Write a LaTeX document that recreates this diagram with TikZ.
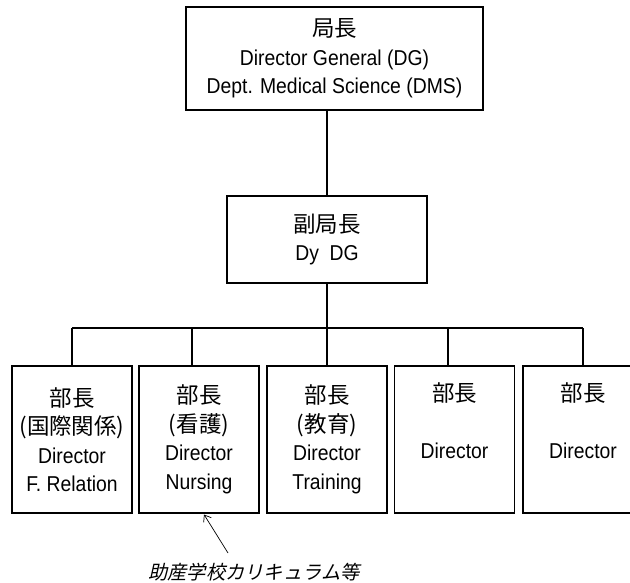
\documentclass[tikz,border=0pt]{standalone}
\usepackage{fontspec}
\setmainfont[FakeStretch=0.9]{Liberation Sans}
\newfontfamily\cjk{Noto Sans CJK JP}
\newfontfamily\cjkit[FakeSlant=0.22]{Noto Sans CJK JP}
\newcommand{\J}[1]{{\cjk\fontsize{22.5}{28.5}\selectfont #1}}
\usetikzlibrary{arrows.meta}
\begin{document}
\begin{tikzpicture}[x=1pt,y=-1pt,
  box/.style={draw, line width=1.3pt, align=center, inner sep=0pt,
    font=\fontsize{21.5}{28.5}\selectfont},
  dept/.style={box, minimum width=120pt, minimum height=147pt},
  conn/.style={line width=1.3pt},
  note/.style={font=\cjkit\fontsize{19.3}{22}\selectfont, inner sep=1pt}]
\useasboundingbox (0,0) rectangle (630,583);
\clip (0,0) rectangle (630,583);
\fill[white] (0,0) rectangle (630,583);
\node[box, minimum width=297pt, minimum height=103pt] (dg) at (334.5,58.5)
  {\J{局長}\\Director General (DG)\\Dept. Medical Science (DMS)};
\node[box, minimum width=200pt, minimum height=87pt] (dy) at (327,239.5)
  {\J{副局長}\\Dy\ \ DG};
\node[dept] (b1) at (72,439.5) {\J{部長}\\\J{(国際関係)}\\Director\\F. Relation};
\node[dept] (b2) at (199,439.5) {\J{部長}\\\J{(看護)}\\Director\\Nursing};
\node[dept] (b3) at (327,439.5) {\J{部長}\\\J{(教育)}\\Director\\Training};
\node[dept] (b4) at (454.5,439.5) {\J{部長}\\\strut\\Director\\\strut};
\node[dept] (b5) at (583,439.5) {\J{部長}\\\strut\\Director\\\strut};
\node[note] (lbl) at (254,572) {助産学校カリキュラム等};
% connectors
\draw[conn] (dy.north) -- (dy.north |- dg.south);
\draw[conn] (dy.south) -- (b3.north);
\coordinate (busL) at (72,328);
\coordinate (busR) at (583,328);
\coordinate (d2) at (192,328);
\coordinate (d4) at (448,328);
\draw[conn] (busL) -- (busR);
\draw[conn] (busL) -- (b1.north);
\draw[conn] (d2) -- (d2 |- b2.north);
\draw[conn] (d4) -- (d4 |- b4.north);
\draw[conn] (busR) -- (b5.north);
\coordinate (as) at (228,553);
\coordinate (tip) at (204,514.5);
\draw[line width=0.7pt, -{Straight Barb[length=6pt,width=9pt]}] (as) -- (tip);
\end{tikzpicture}
\end{document}
